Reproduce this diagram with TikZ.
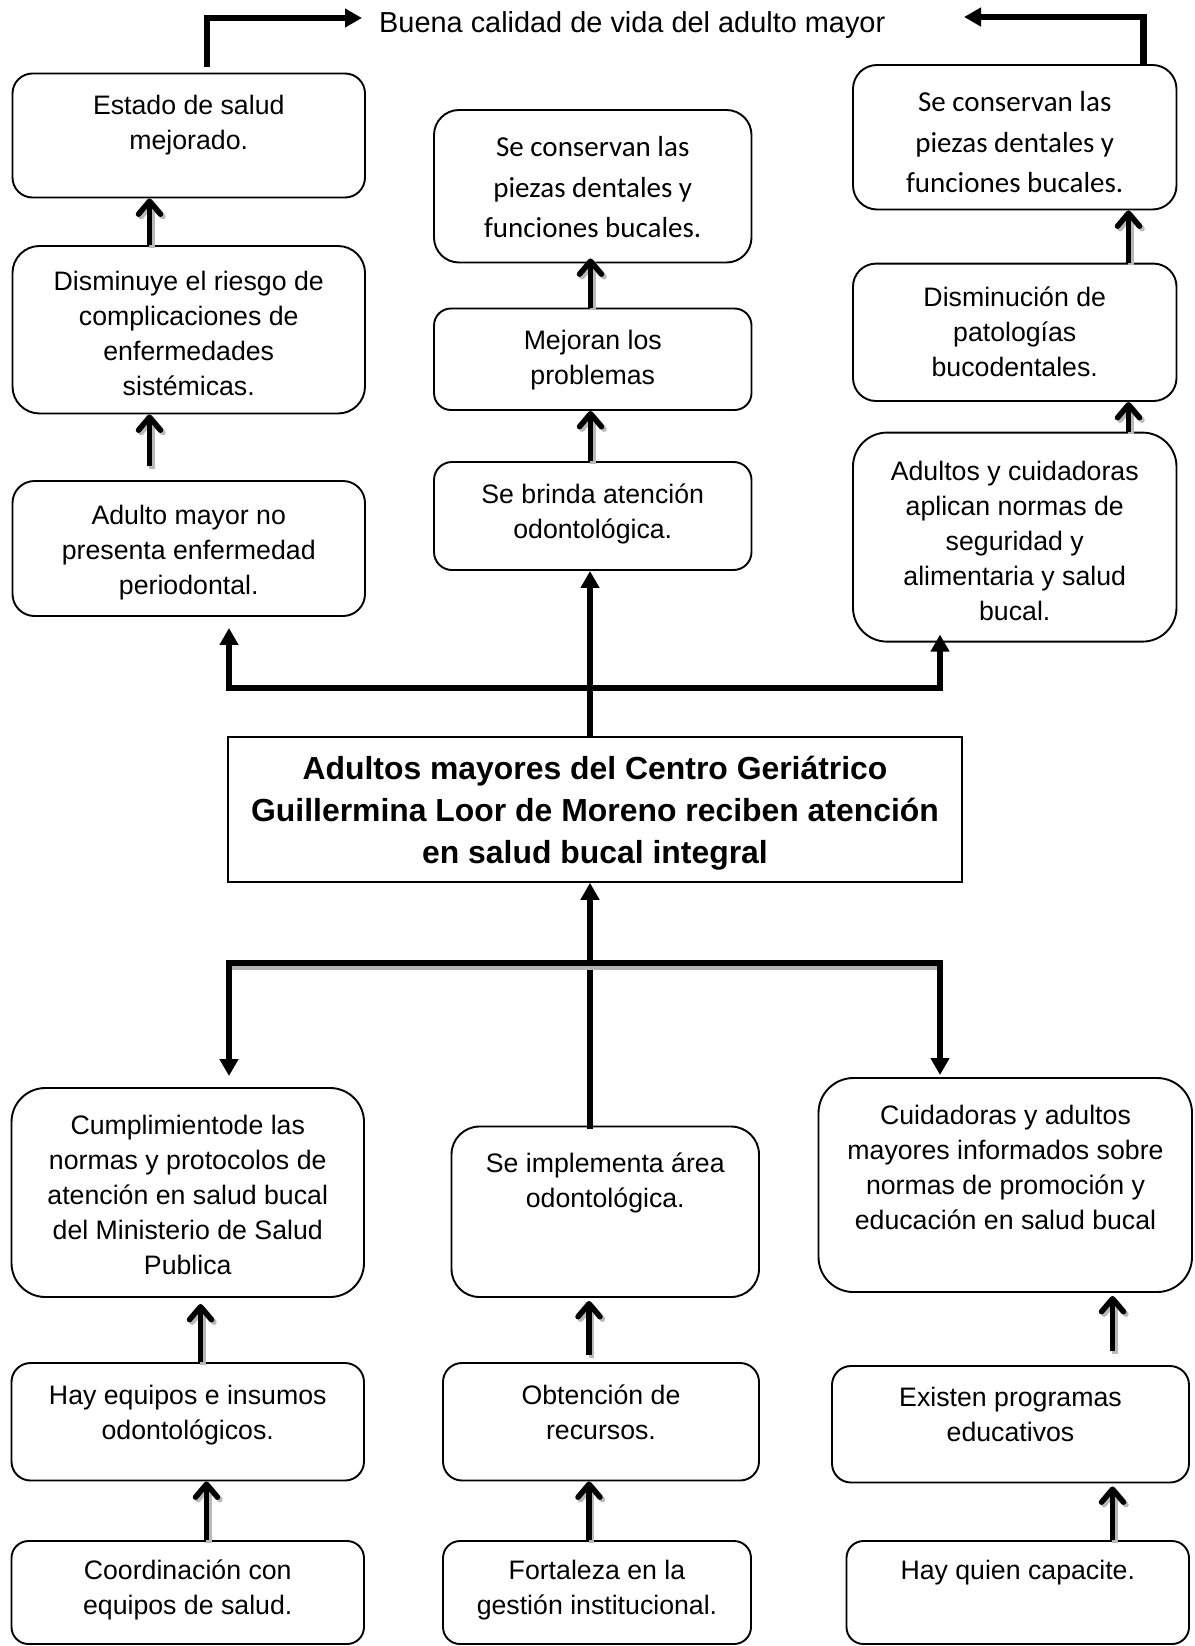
\documentclass[tikz,border=0pt]{standalone}
\usepackage{fontspec}
\setmainfont{Liberation Sans}
\newfontfamily\calfont{Carlito}
\usetikzlibrary{arrows.meta,fit,calc}
\newcommand\fontA{\fontsize{26.7pt}{35pt}\selectfont}
\newcommand\fontC{\calfont\fontsize{29pt}{40.7pt}\selectfont}
\newcommand\fontT{\bfseries\fontsize{31.9pt}{42pt}\selectfont}
\newcommand\fontB{\fontsize{28.9pt}{35pt}\selectfont}
\tikzset{
  box/.style={draw=black, line width=1.9pt, inner sep=0pt, rectangle},
  tA/.style={font=\fontA, align=center, inner sep=0pt, anchor=north},
  tC/.style={font=\fontC, align=center, inner sep=0pt, anchor=north},
  tT/.style={font=\fontT, align=center, inner sep=0pt, anchor=north},
  conn/.style={draw=black, line width=6.3pt},
  tri/.style={-{Triangle[length=17pt,width=18pt]}},
  bitri/.style={{Triangle[length=17pt,width=18pt]}-{Triangle[length=17pt,width=18pt]}},
  stick/.style={line width=5.5pt, -{Straight Barb[length=13pt,width=22pt,round]}},
}
\newcommand\bx[6]{\node[box, rounded corners=#6pt, fit={(#2,#3) (#4,#5)}] (#1) {};}
\newcommand\upar[2]{%
  \draw[stick, draw=gray!55, transform canvas={xshift=2.5pt,yshift=-2.5pt}] #1 -- #2;
  \draw[stick, draw=black] #1 -- #2;}
\begin{document}
\begin{tikzpicture}[x=1pt,y=-1pt]
\fill[white] (0,0) rectangle (1194,1646);
\useasboundingbox (0,0) rectangle (1194,1646);

% ---------- boxes ----------
\bx{A1}{12.5}{73.5}{365}{197.5}{20}
\bx{A2}{12.5}{246}{365}{413.5}{27}
\bx{A3}{12.5}{481}{365}{616}{22}
\bx{B1}{434}{110}{751.5}{262.5}{25}
\bx{B2}{434}{308.5}{751.5}{410}{17}
\bx{B3}{434}{462}{751.5}{570}{18}
\bx{C1}{853}{65}{1176.5}{209.5}{24}
\bx{C2}{853}{263.6}{1176.5}{401}{23}
\bx{C3}{853}{432.6}{1176.5}{641.6}{34}
\node[draw=black, line width=1.5pt, inner sep=0pt, fit={(228,737) (962,882)}] (T) {};
\bx{D1}{11.5}{1088}{364}{1297}{34}
\bx{D2}{11.5}{1363}{364}{1480.5}{19}
\bx{D3}{11.5}{1541}{364}{1644}{17}
\bx{E1}{451.5}{1126.5}{759}{1297}{28}
\bx{E2}{443}{1363}{759}{1480.5}{19}
\bx{E3}{443}{1541}{751}{1644}{17}
\bx{F1}{818.5}{1078}{1192}{1292}{35}
\bx{F2}{832}{1366}{1189}{1482.5}{19}
\bx{F3}{846.5}{1541}{1189}{1644}{17}

% ---------- texts ----------
\node[font=\fontB, inner sep=0pt, anchor=base west] (buena) at (379,32.3) {Buena calidad de vida del adulto mayor};
\node[tA] (tA1) at (188.75,90) {\strut Estado de salud\\mejorado.};
\node[tA] (tA2) at (188.75,265.4) {\strut Disminuye el riesgo de\\complicaciones de\\enfermedades\\sistémicas.};
\node[tA] (tA3) at (188.75,499.5) {\strut Adulto mayor no\\presenta enfermedad\\periodontal.};
\node[tC] (tB1) at (592.75,127.8) {\strut Se conservan las\\piezas dentales y\\funciones bucales.};
\node[tA] (tB2) at (592.75,325.2) {\strut Mejoran los\\problemas};
\node[tA] (tB3) at (592.75,478.5) {\strut Se brinda atención\\odontológica.};
\node[tC] (tC1) at (1014.75,82.7) {\strut Se conservan las\\piezas dentales y\\funciones bucales.};
\node[tA] (tC2) at (1014.75,282.2) {\strut Disminución de\\patologías\\bucodentales.};
\node[tA] (tC3) at (1014.75,455.4) {\strut Adultos y cuidadoras\\aplican normas de\\seguridad y\\alimentaria y salud\\bucal.};
\node[tT] (tT) at (595,749.7) {\strut Adultos mayores del Centro Geriátrico\\Guillermina Loor de Moreno reciben atención\\en salud bucal integral};
\node[tA] (tD1) at (187.75,1109.7) {\strut Cumplimientode las\\normas y protocolos de\\atención en salud bucal\\del Ministerio de Salud\\Publica};
\node[tA] (tD2) at (187.75,1379.5) {\strut Hay equipos e insumos\\odontológicos.};
\node[tA] (tD3) at (187.75,1555) {\strut Coordinación con\\equipos de salud.};
\node[tA] (tE1) at (605.25,1147.5) {\strut Se implementa área\\odontológica.};
\node[tA] (tE2) at (601,1379.5) {\strut Obtención de\\recursos.};
\node[tA] (tE3) at (597,1555) {\strut Fortaleza en la\\gestión institucional.};
\node[tA] (tF1) at (1005.5,1100.2) {\strut Cuidadoras y adultos\\mayores informados sobre\\normas de promoción y\\educación en salud bucal};
\node[tA] (tF2) at (1010.5,1381.6) {\strut Existen programas\\educativos};
\node[tA] (tF3) at (1017.75,1555) {\strut Hay quien capacite.};

% ---------- column coordinates ----------
\coordinate (xa) at (149.5,0);
\coordinate (xb) at (590.5,0);
\coordinate (xc) at (1128.5,0);
\coordinate (xd1) at (200.5,0);
\coordinate (xd2) at (206.5,0);
\coordinate (xe) at (589,0);
\coordinate (xf) at (1112.5,0);
\coordinate (xm) at (590,0);
\coordinate (xtl) at (207,0);
\coordinate (xtr) at (1143.6,0);
\coordinate (tl) at (362,18);
\coordinate (tr) at (964,17);
\coordinate (bL1) at (229,688);
\coordinate (bR1) at (940,688);
\coordinate (bL2) at (229,963);
\coordinate (bR2) at (940,963);

% ---------- top arrows to "Buena calidad" ----------
\draw[conn, tri] ($(A1.north -| xtl)+(0,-6)$) |- (tl);
\draw[conn, tri] (C1.north -| xtr) |- (tr);

% ---------- small stick arrows ----------
\upar{(A2.north -| xa)}{(A1.south -| xa)}
\upar{($(A3.north -| xa)+(0,-14)$)}{(A2.south -| xa)}
\upar{(B2.north -| xb)}{($(B1.south -| xb)+(0,-5)$)}
\upar{(B3.north -| xb)}{(B2.south -| xb)}
\upar{(C2.north -| xc)}{(C1.south -| xc)}
\upar{(C3.north -| xc)}{(C2.south -| xc)}
\upar{(D2.north -| xd1)}{($(D1.south -| xd1)+(0,6)$)}
\upar{(D3.north -| xd2)}{(D2.south -| xd2)}
\upar{($(E2.north -| xe)+(0,-7)$)}{($(E1.south -| xe)+(0,3)$)}
\upar{(E3.north -| xe)}{(E2.south -| xe)}
\upar{($(F2.north -| xf)+(0,-14)$)}{($(F1.south -| xf)+(0,3)$)}
\upar{(F3.north -| xf)}{($(F2.south -| xf)+(0,3)$)}

% ---------- middle tree (effects) ----------
\draw[conn, tri] (T.north -| xm) -- (B3.south -| xm);
\draw[conn, bitri] ($(A3.south -| bL1)+(0,11)$) -- (bL1) -- (bR1) -- ($(C3.south -| bR1)+(0,-8)$);

% ---------- lower tree (causes) ----------
\draw[conn, tri] ($(E1.north -| xm)+(0,3)$) -- (T.south -| xm);
\draw[draw=gray!60, line width=4pt] ($(bL2)+(3,5)$) -- ($(bR2)+(-3,5)$);
\draw[conn, bitri] ($(D1.north -| bL2)+(0,-11)$) -- (bL2) -- (bR2) -- ($(F1.north -| bR2)+(0,-2)$);
\end{tikzpicture}
\end{document}
